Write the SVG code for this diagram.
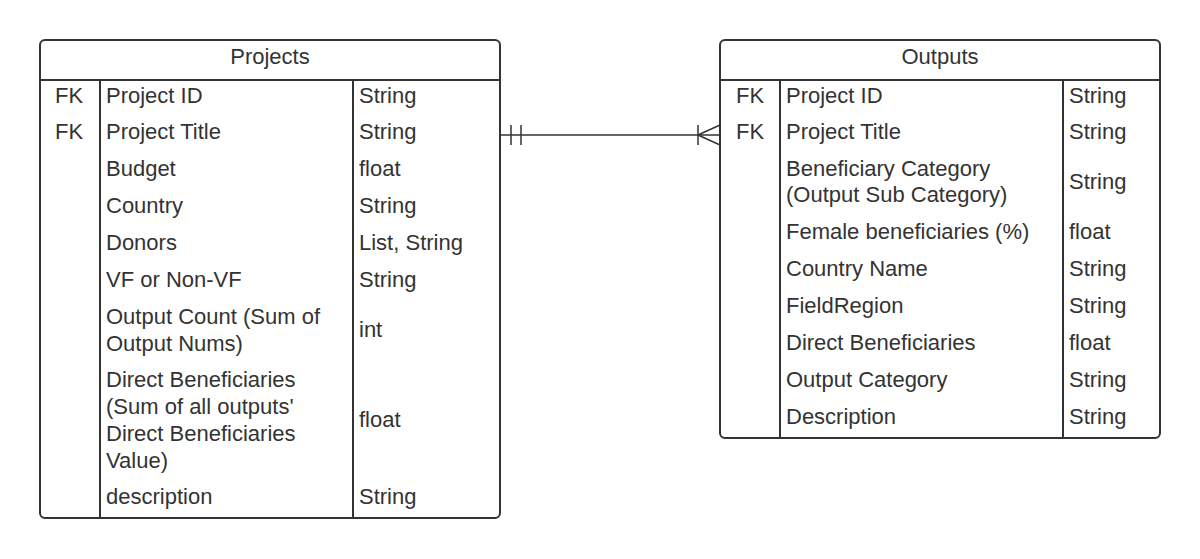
<svg xmlns="http://www.w3.org/2000/svg" width="1200" height="559" viewBox="0 0 1200 559">
<style>
.box{fill:#fff;stroke:#333;stroke-width:2}
.ln{stroke:#333;stroke-width:2;fill:none}
.cn{stroke:#333;stroke-width:1.5;fill:none}
text{font-family:"Liberation Sans",Arial,sans-serif;font-size:22px;fill:#333}
.h{text-anchor:middle}
</style>
<rect width="1200" height="559" fill="#fff"/>
<g id="projects">
<rect class="box" x="40" y="40" width="460" height="478" rx="5"/>
<line class="ln" x1="40" y1="80" x2="500" y2="80"/>
<line class="ln" x1="100" y1="80" x2="100" y2="518"/>
<line class="ln" x1="353" y1="80" x2="353" y2="518"/>
<text class="h" x="270" y="64">Projects</text>
<text x="55" y="103">FK</text><text x="106" y="103">Project ID</text><text x="359" y="103">String</text>
<text x="55" y="139">FK</text><text x="106" y="139">Project Title</text><text x="359" y="139">String</text>
<text x="106" y="176">Budget</text><text x="359" y="176">float</text>
<text x="106" y="213">Country</text><text x="359" y="213">String</text>
<text x="106" y="250">Donors</text><text x="359" y="250">List, String</text>
<text x="106" y="287">VF or Non-VF</text><text x="359" y="287">String</text>
<text x="106" y="324">Output Count (Sum of</text><text x="106" y="351">Output Nums)</text><text x="359" y="337">int</text>
<text x="106" y="387">Direct Beneficiaries</text><text x="106" y="414">(Sum of all outputs'</text><text x="106" y="441">Direct Beneficiaries</text><text x="106" y="468">Value)</text><text x="359" y="427">float</text>
<text x="106" y="504">description</text><text x="359" y="504">String</text>
</g>
<g id="outputs">
<rect class="box" x="720" y="40" width="440" height="398" rx="5"/>
<line class="ln" x1="720" y1="80" x2="1160" y2="80"/>
<line class="ln" x1="780" y1="80" x2="780" y2="438"/>
<line class="ln" x1="1063" y1="80" x2="1063" y2="438"/>
<text class="h" x="940" y="64">Outputs</text>
<text x="736" y="103">FK</text><text x="786" y="103">Project ID</text><text x="1069" y="103">String</text>
<text x="736" y="139">FK</text><text x="786" y="139">Project Title</text><text x="1069" y="139">String</text>
<text x="786" y="176">Beneficiary Category</text><text x="786" y="202">(Output Sub Category)</text><text x="1069" y="189">String</text>
<text x="786" y="239">Female beneficiaries (%)</text><text x="1069" y="239">float</text>
<text x="786" y="276">Country Name</text><text x="1069" y="276">String</text>
<text x="786" y="313">FieldRegion</text><text x="1069" y="313">String</text>
<text x="786" y="350">Direct Beneficiaries</text><text x="1069" y="350">float</text>
<text x="786" y="387">Output Category</text><text x="1069" y="387">String</text>
<text x="786" y="424">Description</text><text x="1069" y="424">String</text>
</g>
<g id="connectors">
<line class="cn" x1="500" y1="135" x2="720" y2="135"/>
<line class="cn" x1="511" y1="125" x2="511" y2="145"/>
<line class="cn" x1="521" y1="125" x2="521" y2="145"/>
<line class="cn" x1="698" y1="125" x2="698" y2="145"/>
<line class="cn" x1="698" y1="135" x2="720" y2="125"/>
<line class="cn" x1="698" y1="135" x2="720" y2="145"/>
</g>
</svg>
